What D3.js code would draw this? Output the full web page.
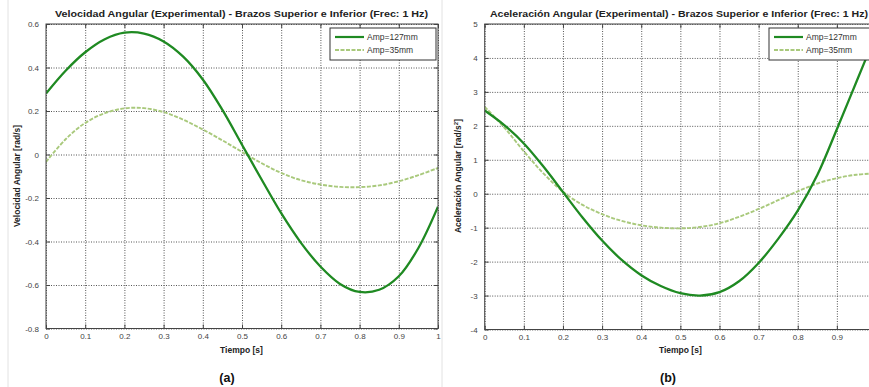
<!DOCTYPE html>
<html>
<head>
<meta charset="utf-8">
<script src="https://cdn.jsdelivr.net/npm/d3@7"></script>
<style>
  html, body { margin: 0; padding: 0; background: #fff; }
  svg { display: block; }
  text { font-family: "Liberation Sans", Arial, sans-serif; }
</style>
</head>
<body>
<svg id="chart" width="869" height="387"></svg>
<script>
// Sample times (s), one full cycle at 1 Hz
const timeS = [0, 0.05, 0.1, 0.15, 0.2, 0.25, 0.3, 0.35, 0.4, 0.45, 0.5,
               0.55, 0.6, 0.65, 0.7, 0.75, 0.8, 0.85, 0.9, 0.95, 1.0];

// Angular velocity [rad/s]
const velAmp127 = [0.28, 0.385, 0.47, 0.53, 0.56, 0.556, 0.52, 0.45, 0.345, 0.205, 0.045,
                   -0.115, -0.27, -0.405, -0.515, -0.595, -0.632, -0.622, -0.56, -0.43, -0.24];
const velAmp35  = [-0.034, 0.07, 0.145, 0.19, 0.212, 0.213, 0.195, 0.16, 0.115, 0.065, 0.012,
                   -0.04, -0.085, -0.118, -0.138, -0.149, -0.15, -0.142, -0.123, -0.095, -0.062];

// Angular acceleration [rad/s^2]
const accAmp127 = [2.45, 2.02, 1.48, 0.8, 0.05, -0.7, -1.38, -1.95, -2.4, -2.72, -2.93,
                   -3.0, -2.9, -2.58, -2.04, -1.33, -0.5, 0.55, 1.9, 3.3, 4.7];
const accAmp35  = [2.56, 1.95, 1.25, 0.6, 0.06, -0.33, -0.6, -0.8, -0.93, -1.0, -1.02,
                   -0.98, -0.87, -0.68, -0.45, -0.19, 0.07, 0.3, 0.46, 0.56, 0.6];

// Tick values
const timeTicks = [0, 0.1, 0.2, 0.3, 0.4, 0.5, 0.6, 0.7, 0.8, 0.9, 1];
const velTicks  = [0.6, 0.4, 0.2, 0, -0.2, -0.4, -0.6, -0.8];
const accTicks  = [5, 4, 3, 2, 1, 0, -1, -2, -3, -4];

const seriesNames = ["Amp=127mm", "Amp=35mm"];

const solidColor = "#1f8a22";
const dashColor  = "#a9c97c";

const svg = d3.select("#chart");

// faint page-edge rules
[8, 442].forEach(x => {
  svg.append("line").attr("x1", x).attr("x2", x).attr("y1", 0).attr("y2", 387)
     .attr("stroke", "#e2e2e2").attr("stroke-width", 1);
});

const fmt = d => {
  const v = +(+d).toFixed(2);
  return v === 0 ? "0" : String(v);
};

function drawPanel(opt) {
  const g = svg.append("g");
  const x = d3.scaleLinear().domain([0, 1]).range([opt.left, opt.right]);
  const y = d3.scaleLinear().domain(opt.yDomain).range([opt.bottom, opt.top]);
  const w = opt.right - opt.left, h = opt.bottom - opt.top;

  // background
  g.append("rect").attr("x", opt.left).attr("y", opt.top)
    .attr("width", w).attr("height", h).attr("fill", "#fff");

  // dotted grid
  const gridX = g.append("g").attr("transform", `translate(0,${opt.bottom})`)
    .call(d3.axisBottom(x).tickValues(timeTicks).tickSize(-h).tickFormat(""));
  const gridY = g.append("g").attr("transform", `translate(${opt.left},0)`)
    .call(d3.axisLeft(y).tickValues(opt.yTicks).tickSize(-w).tickFormat(""));
  [gridX, gridY].forEach(a => {
    a.select(".domain").remove();
    a.selectAll(".tick line").attr("stroke", "#555").attr("stroke-width", 1)
      .attr("stroke-dasharray", "1,1.5");
  });

  // curves
  const clipId = "clip-" + opt.id;
  g.append("clipPath").attr("id", clipId).append("rect")
    .attr("x", opt.left).attr("y", opt.top).attr("width", w).attr("height", h);
  const line = vals => d3.line()
    .x((d, i) => x(timeS[i])).y(d => y(d))
    .curve(d3.curveCatmullRom.alpha(0.5))(vals);
  const plot = g.append("g").attr("clip-path", `url(#${clipId})`);
  plot.append("path").attr("d", line(opt.dashed)).attr("fill", "none")
    .attr("stroke", dashColor).attr("stroke-width", 1.9).attr("stroke-dasharray", "4,1.5");
  plot.append("path").attr("d", line(opt.solid)).attr("fill", "none")
    .attr("stroke", solidColor).attr("stroke-width", 2.3);

  // axes with inward ticks
  const xLabelTicks = timeTicks.filter(t => x(t) <= 869 - 4);
  const axB = g.append("g").attr("transform", `translate(0,${opt.bottom})`)
    .call(d3.axisBottom(x).tickValues(timeTicks).tickSize(-4).tickPadding(5)
      .tickFormat(d => xLabelTicks.includes(d) ? fmt(d) : ""));
  const axL = g.append("g").attr("transform", `translate(${opt.left},0)`)
    .call(d3.axisLeft(y).tickValues(opt.yTicks).tickSize(-4).tickPadding(7).tickFormat(fmt));
  const axT = g.append("g").attr("transform", `translate(0,${opt.top})`)
    .call(d3.axisTop(x).tickValues(timeTicks).tickSize(-4).tickFormat(""));
  const axR = g.append("g").attr("transform", `translate(${opt.right},0)`)
    .call(d3.axisRight(y).tickValues(opt.yTicks).tickSize(-4).tickFormat(""));
  [axB, axL, axT, axR].forEach(a => {
    a.select(".domain").remove();
    a.selectAll(".tick line").attr("stroke", "#444");
    a.selectAll(".tick text").attr("fill", "#444").attr("font-size", 8)
      .attr("font-family", "'Liberation Sans', Arial, sans-serif");
  });

  // frame
  g.append("rect").attr("x", opt.left).attr("y", opt.top)
    .attr("width", w).attr("height", h).attr("fill", "none")
    .attr("stroke", "#444").attr("stroke-width", 1);

  // title
  g.append("text").attr("x", opt.titleX).attr("y", 17)
    .attr("text-anchor", "middle").attr("font-weight", "bold").attr("font-size", 9)
    .attr("fill", "#222").attr("textLength", opt.titleLen).attr("lengthAdjust", "spacingAndGlyphs")
    .text(opt.title);

  // axis labels
  g.append("text").attr("x", (opt.left + opt.right) / 2 - opt.xLabelShift).attr("y", 353)
    .attr("text-anchor", "middle").attr("font-weight", "bold").attr("font-size", 8.5)
    .attr("fill", "#222").text("Tiempo [s]");
  const yl = g.append("text")
    .attr("transform", `translate(${opt.yLabelX},${opt.yLabelY}) rotate(-90)`)
    .attr("text-anchor", "middle").attr("font-weight", "bold").attr("font-size", 8.5)
    .attr("fill", "#222");
  yl.append("tspan").text(opt.yLabel);
  if (opt.yLabelSup) {
    yl.append("tspan").attr("font-size", 6).attr("dy", -3).text(opt.yLabelSup);
    yl.append("tspan").attr("dy", 3).text("]");
  }

  // legend
  const lg = g.append("g").attr("transform", `translate(${opt.legendX},28)`);
  lg.append("rect").attr("x", 0).attr("y", 0).attr("width", 106).attr("height", 32)
    .attr("fill", "#fff").attr("stroke", "#333").attr("stroke-width", 1);
  [[solidColor, null, 2.2], [dashColor, "4,1.5", 1.9]].forEach((s, i) => {
    const yy = 9 + i * 13;
    lg.append("line").attr("x1", 5).attr("x2", 34).attr("y1", yy).attr("y2", yy)
      .attr("stroke", s[0]).attr("stroke-width", s[2])
      .attr("stroke-dasharray", s[1]);
    lg.append("text").attr("x", 37).attr("y", yy + 3).attr("font-size", 8.5)
      .attr("fill", "#333").text(seriesNames[i]);
  });

  // caption
  g.append("text").attr("x", opt.captionX).attr("y", 382).attr("text-anchor", "middle")
    .attr("font-weight", "bold").attr("font-size", 12.5).attr("fill", "#111")
    .text(opt.caption);
}

drawPanel({
  id: "vel", left: 46, right: 438, top: 24, bottom: 328.5,
  yDomain: [-0.8, 0.6], yTicks: velTicks,
  solid: velAmp127, dashed: velAmp35,
  title: "Velocidad Angular (Experimental) - Brazos Superior e Inferior (Frec: 1 Hz)",
  titleX: 241.5, titleLen: 373,
  yLabel: "Velocidad Angular [rad/s]", yLabelX: 20, yLabelY: 176,
  xLabelShift: 0.5,
  legendX: 330, captionX: 227, caption: "(a)"
});

drawPanel({
  id: "acc", left: 484.7, right: 876, top: 24, bottom: 329.5,
  yDomain: [-4, 5], yTicks: accTicks,
  solid: accAmp127, dashed: accAmp35,
  title: "Aceleración Angular (Experimental) - Brazos Superior e Inferior (Frec: 1 Hz)",
  titleX: 679, titleLen: 378,
  yLabel: "Aceleración Angular [rad/s", yLabelSup: "2", yLabelX: 461, yLabelY: 176,
  xLabelShift: 0,
  legendX: 769, captionX: 668, caption: "(b)"
});
</script>
</body>
</html>
